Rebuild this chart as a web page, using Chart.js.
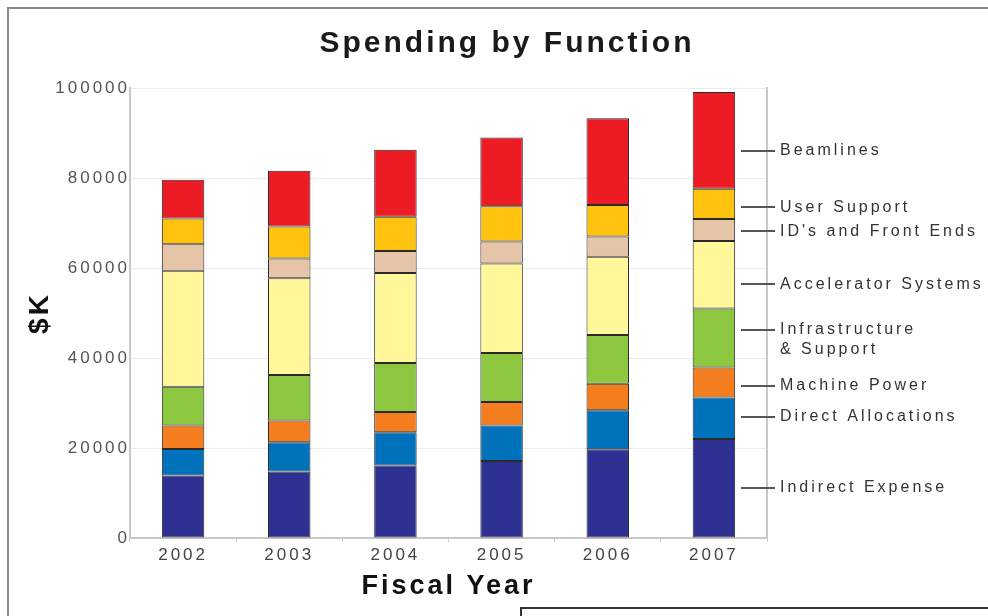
<!DOCTYPE html>
<html>
<head>
<meta charset="utf-8">
<script src="https://cdn.jsdelivr.net/npm/chart.js@4"></script>
<style>
  html, body { margin: 0; padding: 0; background: #fff; }
  #wrap { position: relative; width: 988px; height: 616px; overflow: hidden; }
  #c { position: absolute; left: 0; top: 0; }
  .frame { position: absolute; left: 7px; top: 7px; width: 990px; height: 620px;
           border-top: 2px solid #8a8a8a; border-left: 2px solid #8a8a8a; pointer-events: none; }
  .box { position: absolute; left: 520px; top: 607px; width: 480px; height: 30px;
         border: 2px solid #333; background: #fff; }
</style>
</head>
<body>
<div id="wrap">
  <canvas id="c" width="988" height="616"></canvas>
  <div class="frame"></div>
  <div class="box"></div>
</div>
<script>
// ---- data ----
const years = ['2002', '2003', '2004', '2005', '2006', '2007'];
const indirectExpense    = [13900, 14800, 16100, 17100, 19700, 22000];
const directAllocations  = [5900, 6500, 7400, 7900, 8700, 9200];
const machinePower       = [5200, 4800, 4500, 5200, 5900, 6700];
const infrastructure     = [8600, 10100, 10900, 10900, 10800, 13100];
const acceleratorSystems = [25800, 21500, 20000, 19900, 17400, 15000];
const idsFrontEnds       = [5900, 4400, 4900, 4900, 4500, 4900];
const userSupport        = [5700, 7100, 7600, 7800, 7000, 6700];
const beamlines          = [8600, 12400, 14900, 15300, 19300, 21500];

const yTickValues = [0, 20000, 40000, 60000, 80000, 100000];
// right-hand labels and the $K value each one points at
const sideLabels = ['Indirect Expense', 'Direct Allocations', 'Machine Power',
                    ['Infrastructure', '& Support'], 'Accelerator Systems',
                    "ID's and Front Ends", 'User Support', 'Beamlines'];
const sideLabelValues = [11100, 27000, 33800, 44000, 56400, 68200, 73500, 86000];

// ---- styling ----
Chart.defaults.font.family = "'Liberation Sans', Arial, sans-serif";
Chart.defaults.color = '#555';

const series = [
  {label: 'Indirect Expense',    data: indirectExpense,    color: '#2e3192'},
  {label: 'Direct Allocations',  data: directAllocations,  color: '#0072bc'},
  {label: 'Machine Power',       data: machinePower,       color: '#f47d20'},
  {label: 'Infrastructure & Support', data: infrastructure, color: '#8dc63f'},
  {label: 'Accelerator Systems', data: acceleratorSystems, color: '#fff799'},
  {label: "ID's and Front Ends", data: idsFrontEnds,       color: '#e6c4a8'},
  {label: 'User Support',        data: userSupport,        color: '#ffc20e'},
  {label: 'Beamlines',           data: beamlines,          color: '#ed1c24'}
];

const SPACING = '3px';
const spacingPlugin = {
  id: 'spacing',
  beforeUpdate(c) { c.ctx.letterSpacing = SPACING; },
  beforeDraw(c) { c.ctx.letterSpacing = SPACING; },
  resize(c) { c.ctx.letterSpacing = SPACING; }
};

const SIDE_LINE_H = 20;
const sideTicksPlugin = {
  id: 'sideTicks',
  afterDraw(chart) {
    const s = chart.scales.yr;
    const ctx = chart.ctx;
    const right = chart.chartArea.right;
    ctx.save();
    ctx.strokeStyle = '#555';
    ctx.lineWidth = 2;
    s.ticks.forEach((t, i) => {
      const lab = sideLabels[i];
      const n = Array.isArray(lab) ? lab.length : 1;
      const y = Math.round(s.getPixelForValue(t.value) - (n - 1) * SIDE_LINE_H / 2);
      ctx.beginPath();
      ctx.moveTo(right - 26, y);
      ctx.lineTo(right + 8, y);
      ctx.stroke();
    });
    ctx.restore();
  }
};

new Chart(document.getElementById('c'), {
  type: 'bar',
  data: {
    labels: years,
    datasets: series.map(s => ({
      label: s.label,
      data: s.data,
      backgroundColor: s.color,
      borderColor: '#2a2a2a',
      borderWidth: 1,
      borderSkipped: false,
      barPercentage: 0.4,
      categoryPercentage: 1.0,
      yAxisID: 'y'
    }))
  },
  options: {
    responsive: false,
    animation: false,
    layout: { padding: { left: 26, right: 0, top: 0, bottom: 0 } },
    plugins: {
      legend: { display: false },
      tooltip: { enabled: false },
      title: {
        display: true,
        text: 'Spending by Function',
        color: '#1a1a1a',
        font: { size: 30, weight: 'bold' },
        padding: { top: 26, bottom: 26 }
      }
    },
    scales: {
      x: {
        stacked: true,
        grid: { drawOnChartArea: false, offset: true, tickLength: 4, color: '#cccccc' },
        border: { color: '#c8c8c8', width: 2 },
        ticks: { color: '#444', font: { size: 17 }, padding: 3 },
        title: {
          display: true, text: 'Fiscal Year', color: '#111',
          font: { size: 27, weight: 'bold' }, padding: { top: 0, bottom: 13 }
        },
        afterFit(scale) { scale.height = 78; }
      },
      y: {
        stacked: true,
        position: 'left',
        min: 0, max: 100000,
        afterBuildTicks(scale) { scale.ticks = yTickValues.map(v => ({ value: v })); },
        grid: { color: '#ececec', lineWidth: 1, drawTicks: false },
        border: { color: '#c8c8c8', width: 2 },
        ticks: { color: '#555', font: { size: 17 }, padding: 0, callback: v => String(v) },
        title: {
          display: true, text: '$K', color: '#111',
          font: { size: 28, weight: 'bold' }, padding: { top: -3, bottom: 0 }
        },
        afterFit(scale) { scale.width = 104; }
      },
      yr: {
        position: 'right',
        min: 0, max: 100000,
        afterBuildTicks(scale) { scale.ticks = sideLabelValues.map(v => ({ value: v })); },
        grid: { drawOnChartArea: false, drawTicks: false },
        border: { color: '#c8c8c8', width: 2 },
        ticks: {
          autoSkip: false, color: '#333', padding: 13,
          font: { size: 16, lineHeight: SIDE_LINE_H / 16 },
          callback: (v, i) => sideLabels[i]
        },
        afterFit(scale) { scale.width = 221; }
      }
    }
  },
  plugins: [spacingPlugin, sideTicksPlugin]
});
</script>
</body>
</html>
